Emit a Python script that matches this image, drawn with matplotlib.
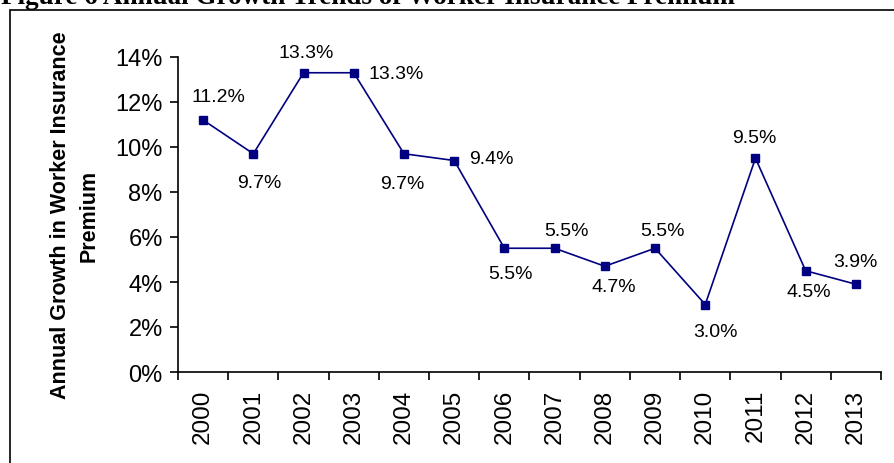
import matplotlib

matplotlib.use("Agg")
import matplotlib.pyplot as plt
from matplotlib.patches import Rectangle
from matplotlib.ticker import FuncFormatter, FixedLocator

# data
years = ["2000", "2001", "2002", "2003", "2004", "2005", "2006",
         "2007", "2008", "2009", "2010", "2011", "2012", "2013"]
growth = [11.2, 9.7, 13.3, 13.3, 9.7, 9.4, 5.5, 5.5, 4.7, 5.5, 3.0, 9.5, 4.5, 3.9]
labels = ["11.2%", "9.7%", "13.3%", "13.3%", "9.7%", "9.4%", "5.5%",
          "5.5%", "4.7%", "5.5%", "3.0%", "9.5%", "4.5%", "3.9%"]
yticks = [0, 2, 4, 6, 8, 10, 12, 14]

# label placement relative to each marker (pixels, y down)
label_offsets = [(15, -24), (6, 29), (3, -20), (42, 1), (-2, 30), (37, -2), (6, 25),
                 (12, -18), (9, 20), (7, -18), (10, 27), (-1, -21), (3, 21), (0, -23)]

W, H = 895, 464
fig = plt.figure(figsize=(W / 100, H / 100), dpi=100)
plt.rcParams["font.family"] = ["Liberation Sans", "DejaVu Sans"]

# frame around the chart (runs off the right and bottom edges)
fig.patches.append(Rectangle((10 / W, -0.1), 1.2, 1 - 11 / H + 0.1,
                             transform=fig.transFigure, fill=False,
                             edgecolor="black", linewidth=1.2))

# clipped figure caption at the very top, as in the source
fig.text(1 / W, 1 - 4 / H, "Figure 6 Annual Growth Trends of Worker Insurance Premium",
         fontfamily="Liberation Serif", fontweight="bold", fontsize=19.5,
         ha="left", va="baseline")

ax = fig.add_axes([178 / W, 1 - 373 / H, (881 - 178) / W, (373 - 58) / H])
x = list(range(len(years)))
ax.plot(x, growth, color="#000080", linewidth=1.2, marker="s", markersize=6,
        markerfacecolor="#000080", markeredgecolor="#000080")

for xi, yi, lab, (dx, dy) in zip(x, growth, labels, label_offsets):
    ax.annotate(lab, (xi, yi), xytext=(dx * 0.72, -dy * 0.72), textcoords="offset points",
                ha="center", va="center", fontsize=14, color="black")

ax.set_xlim(-0.5, len(years) - 0.5)
ax.set_ylim(0, 14)
ax.set_yticks(yticks)
ax.yaxis.set_major_formatter(FuncFormatter(lambda v, p: f"{v:.0f}%"))
ax.tick_params(axis="y", direction="out", length=6, width=1.2, labelsize=17, pad=5)

# ticks on category boundaries, labels in category centres
ax.xaxis.set_major_locator(FixedLocator([i - 0.5 for i in range(len(years) + 1)]))
ax.xaxis.set_minor_locator(FixedLocator(x))
ax.set_xticklabels([])
ax.set_xticklabels(years, minor=True, rotation=90)
ax.tick_params(axis="x", which="major", direction="out", length=6, width=1.2)
ax.tick_params(axis="x", which="minor", length=0, labelsize=17.5, pad=12)

for side in ["top", "right"]:
    ax.spines[side].set_visible(False)
for side in ["left", "bottom"]:
    ax.spines[side].set_linewidth(1.2)

ax.set_ylabel("Annual Growth in Worker Insurance\nPremium", fontsize=15.5,
              fontweight="bold", linespacing=1.5, labelpad=11)

fig.savefig("out.png", dpi=100)
